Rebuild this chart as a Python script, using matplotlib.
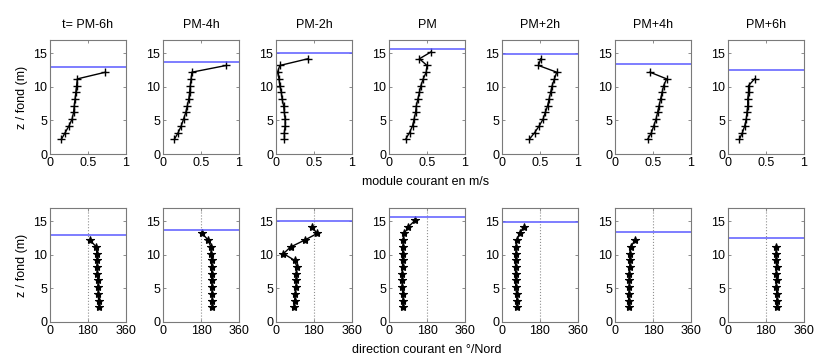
import numpy as np
import matplotlib.pyplot as plt

plt.rcParams['font.family'] = ['Liberation Sans', 'DejaVu Sans']

# === Data (bins every 1 m from 2.2 m) ===
titles = ["t= PM-6h", "PM-4h", "PM-2h", "PM", "PM+2h", "PM+4h", "PM+6h"]
surface = [13.0, 13.7, 15.1, 15.6, 14.9, 13.4, 12.6]

speed = [
    [0.15, 0.20, 0.25, 0.29, 0.31, 0.32, 0.33, 0.34, 0.35, 0.36, 0.73],
    [0.15, 0.20, 0.24, 0.27, 0.30, 0.32, 0.34, 0.35, 0.36, 0.37, 0.38, 0.83],
    [0.11, 0.11, 0.12, 0.12, 0.11, 0.10, 0.08, 0.07, 0.05, 0.04, 0.02, 0.05, 0.42],
    [0.22, 0.27, 0.31, 0.33, 0.35, 0.36, 0.38, 0.40, 0.42, 0.45, 0.49, 0.50, 0.40, 0.55],
    [0.36, 0.43, 0.49, 0.54, 0.57, 0.60, 0.62, 0.64, 0.66, 0.69, 0.72, 0.48, 0.51],
    [0.43, 0.48, 0.51, 0.54, 0.56, 0.58, 0.60, 0.62, 0.64, 0.68, 0.46],
    [0.15, 0.19, 0.22, 0.24, 0.25, 0.26, 0.26, 0.27, 0.27, 0.35],
]

direction = [
    [232, 230, 229, 227, 228, 224, 222, 224, 222, 219, 190],
    [234, 233, 232, 232, 231, 231, 230, 230, 229, 226, 215, 185],
    [87, 88, 92, 95, 96, 97, 99, 88, 35, 70, 135, 195, 170],
    [67, 67, 65, 63, 63, 63, 64, 64, 64, 66, 68, 72, 92, 125],
    [71, 71, 69, 65, 64, 64, 64, 64, 66, 67, 70, 83, 103],
    [64, 64, 66, 67, 68, 68, 70, 70, 71, 74, 95],
    [230, 232, 231, 229, 230, 229, 230, 228, 229, 226],
]

z0 = 2.2
blue = '#5a5aff'
frame = '#7a7a7a'

fig = plt.figure(figsize=(8.14, 3.56), dpi=100)
W, H = 814.0, 356.0
ax_w = 76
rows = [(40, 154), (208, 322)]


def style(ax):
    for s in ax.spines.values():
        s.set_color(frame)
        s.set_linewidth(0.8)
    ax.tick_params(direction='in', top=True, right=True, length=2.5,
                   width=0.6, color=frame, labelsize=9, pad=2)
    ax.set_ylim(0, 17)
    ax.set_yticks([0, 5, 10, 15])


for r, (top, bot) in enumerate(rows):
    for i in range(7):
        left = 50 + 113 * i
        ax = fig.add_axes([left / W, 1 - bot / H, ax_w / W, (bot - top) / H])
        style(ax)
        if r == 0:
            vals = speed[i]
            z = z0 + np.arange(len(vals))
            ax.plot(vals, z, color='k', marker='+', ms=6, mew=1, lw=1)
            ax.set_xlim(0, 1)
            ax.set_xticks([0, 0.5, 1])
            ax.set_xticklabels(['0', '0.5', '1'])
            ax.set_title(titles[i], fontsize=9, pad=9)
        else:
            vals = direction[i]
            z = z0 + np.arange(len(vals))
            ax.axvline(180, color='#909090', ls=':', lw=0.8)
            ax.plot(vals, z, color='k', marker='*', ms=6, mew=0.8, lw=1)
            ax.set_xlim(0, 360)
            ax.set_xticks([0, 180, 360])
        ax.axhline(surface[i], color=blue, lw=1.1)
        if i == 0:
            ax.set_ylabel("z / fond (m)", fontsize=9, labelpad=4)

fig.text(426 / W, 1 - 182 / H, "module courant en m/s", ha='center', va='center', fontsize=9)
fig.text(427 / W, 1 - 350 / H, "direction courant en °/Nord", ha='center', va='center', fontsize=9)

fig.savefig("out.png", dpi=100)
